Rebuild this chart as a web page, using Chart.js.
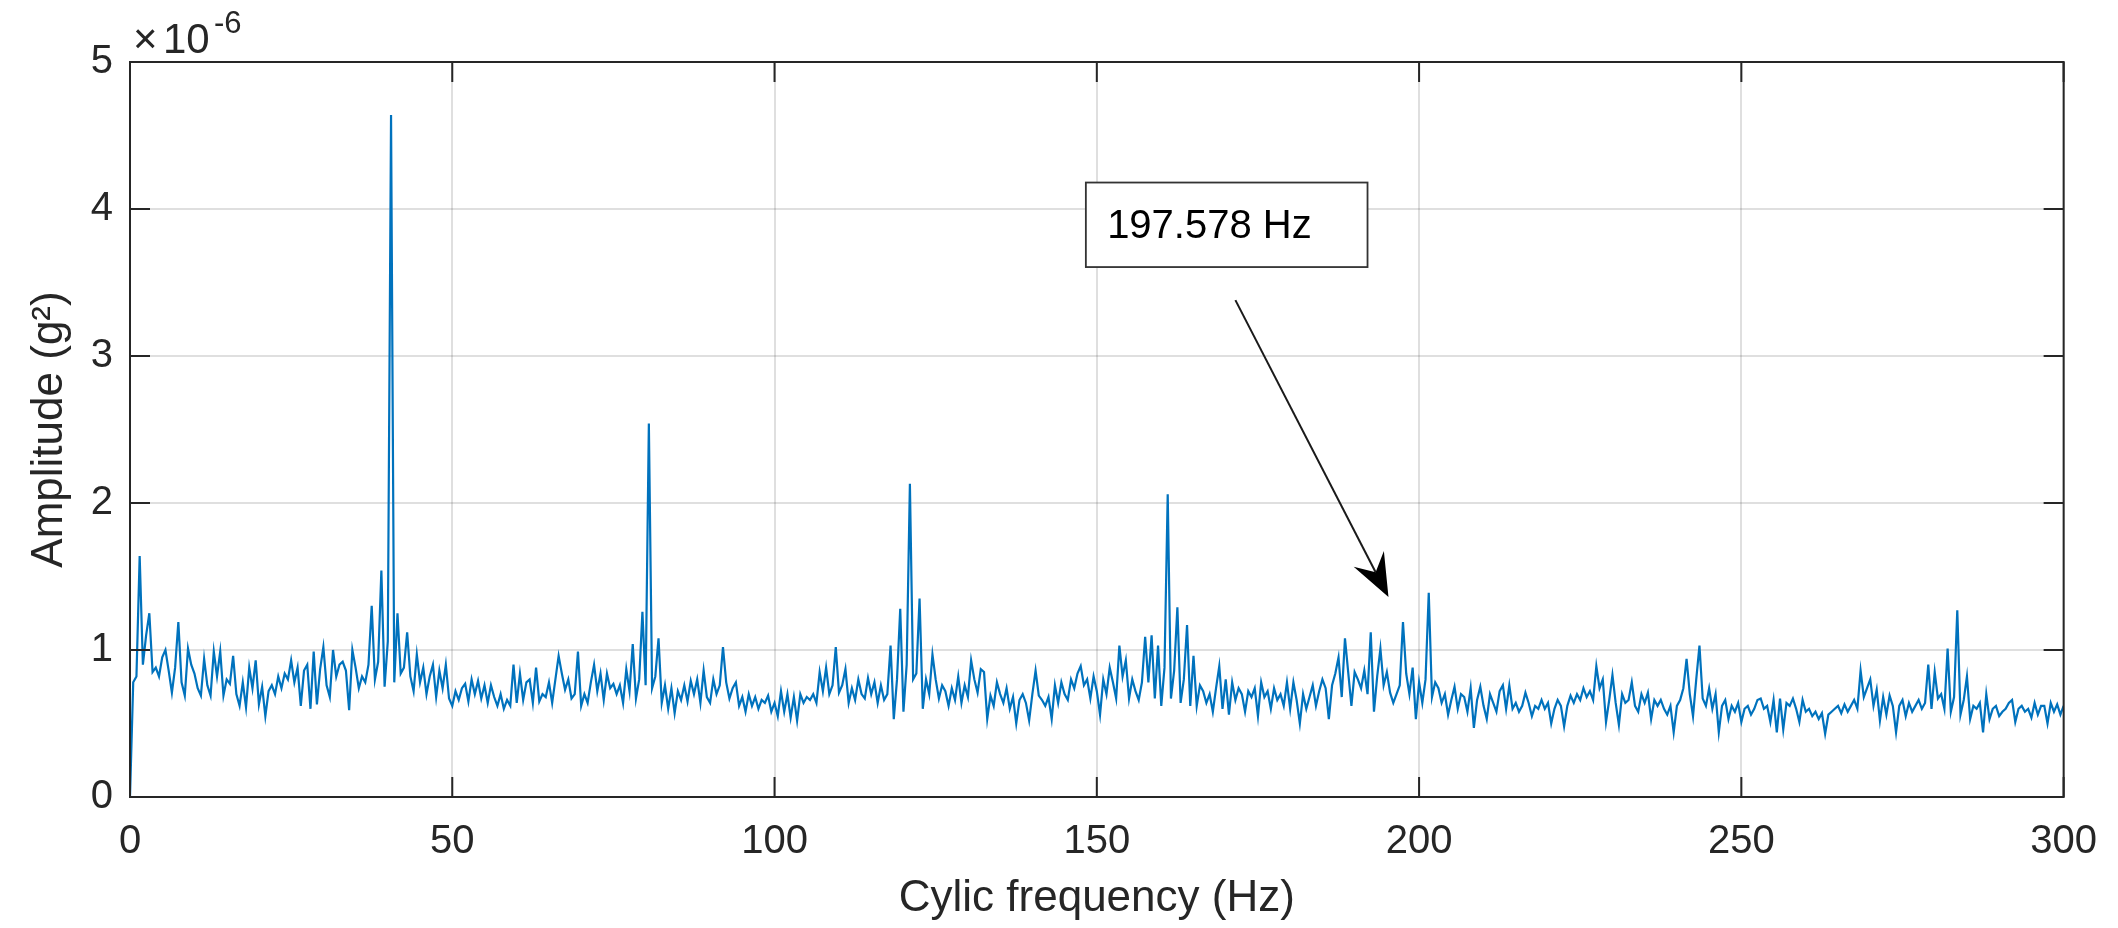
<!DOCTYPE html>
<html>
<head>
<meta charset="utf-8">
<title>Cyclic spectrum</title>
<script src="https://cdn.jsdelivr.net/npm/chart.js@4.4.1/dist/chart.umd.min.js"></script>
<style>
  html, body { margin: 0; padding: 0; background: #fff; }
  #wrap { width: 2118px; height: 928px; }
</style>
</head>
<body>
<div id="wrap"><canvas id="spectrum" width="2118" height="928"></canvas></div>
<script>
// Spectrum amplitudes in units of 1e-6 g^2, one bin every 0.5 Hz, split per 50 Hz band
const freqStep = 0.5;

const amp0to50 = [
  0, 0.78, 0.82, 1.64, 0.9, 1.1, 1.25, 0.85, 0.88, 0.82,
  0.95, 1.0, 0.86, 0.71, 0.88, 1.19, 0.78, 0.69, 1.01, 0.9,
  0.84, 0.74, 0.69, 0.94, 0.76, 0.69, 0.99, 0.82, 0.99, 0.69,
  0.8, 0.77, 0.96, 0.7, 0.62, 0.78, 0.61, 0.88, 0.74, 0.93,
  0.63, 0.75, 0.55, 0.72, 0.76, 0.7, 0.82, 0.74, 0.84, 0.8,
  0.93, 0.78, 0.88, 0.62, 0.86, 0.9, 0.6, 0.99, 0.63, 0.87,
  1.02, 0.76, 0.68, 1.0, 0.82, 0.9, 0.92, 0.86, 0.59, 1.0,
  0.88, 0.74, 0.82, 0.78, 0.9, 1.3, 0.8, 0.92, 1.54, 0.75,
  1.06, 4.64, 0.78, 1.25, 0.84, 0.88, 1.12, 0.82, 0.72, 0.97,
  0.78, 0.88, 0.7, 0.82, 0.9, 0.68, 0.86, 0.74, 0.9, 0.67
];
const amp50to100 = [
  0.62, 0.72, 0.66, 0.74, 0.77, 0.65, 0.8, 0.7, 0.79, 0.67,
  0.76, 0.64, 0.76, 0.68, 0.62, 0.7, 0.6, 0.66, 0.62, 0.9,
  0.64, 0.84, 0.66, 0.78, 0.8, 0.64, 0.88, 0.65, 0.7, 0.68,
  0.78, 0.64, 0.8, 0.96, 0.84, 0.73, 0.8, 0.67, 0.7, 0.99,
  0.62, 0.7, 0.64, 0.78, 0.9, 0.72, 0.84, 0.66, 0.84, 0.74,
  0.77, 0.7, 0.76, 0.64, 0.87, 0.72, 1.04, 0.67, 0.8, 1.26,
  0.76, 2.54, 0.74, 0.82, 1.08, 0.64, 0.76, 0.6, 0.74, 0.57,
  0.72, 0.66, 0.76, 0.65, 0.79, 0.7, 0.8, 0.64, 0.86, 0.68,
  0.64, 0.8, 0.7, 0.76, 1.02, 0.78, 0.67, 0.74, 0.78, 0.62,
  0.68, 0.58, 0.7, 0.62, 0.68, 0.6, 0.66, 0.64, 0.69, 0.58
];
const amp100to150 = [
  0.64, 0.55, 0.72, 0.58, 0.7, 0.54, 0.68, 0.52, 0.7, 0.64,
  0.68, 0.66, 0.7, 0.64, 0.85, 0.72, 0.88, 0.7, 0.76, 1.02,
  0.71, 0.76, 0.87, 0.64, 0.74, 0.66, 0.8, 0.7, 0.67, 0.81,
  0.7, 0.78, 0.64, 0.76, 0.66, 0.7, 1.03, 0.53, 0.8, 1.28,
  0.58, 0.9, 2.13, 0.8, 0.84, 1.35, 0.6, 0.8, 0.7, 0.97,
  0.8, 0.67, 0.76, 0.72, 0.62, 0.74, 0.66, 0.82, 0.64, 0.76,
  0.68, 0.93, 0.8, 0.71, 0.87, 0.85, 0.53, 0.69, 0.62, 0.78,
  0.7, 0.64, 0.74, 0.6, 0.68, 0.5, 0.66, 0.7, 0.64, 0.52,
  0.7, 0.86, 0.69, 0.66, 0.62, 0.68, 0.53, 0.76, 0.64, 0.78,
  0.7, 0.66, 0.8, 0.74, 0.84, 0.89, 0.76, 0.8, 0.67, 0.82
];
const amp150to200 = [
  0.72, 0.56, 0.8, 0.7, 0.88, 0.78, 0.67, 1.03, 0.82, 0.93,
  0.67, 0.8, 0.72, 0.66, 0.78, 1.09, 0.78, 1.1, 0.67, 1.03,
  0.62, 0.88, 2.06, 0.67, 0.86, 1.29, 0.64, 0.8, 1.17, 0.62,
  0.96, 0.62, 0.76, 0.72, 0.64, 0.7, 0.58, 0.74, 0.89, 0.6,
  0.8, 0.56, 0.78, 0.66, 0.74, 0.7, 0.58, 0.72, 0.68, 0.74,
  0.55, 0.78, 0.68, 0.72, 0.6, 0.74, 0.66, 0.7, 0.62, 0.78,
  0.6, 0.78, 0.66, 0.5, 0.7, 0.6, 0.68, 0.76, 0.62, 0.72,
  0.8, 0.74, 0.53, 0.76, 0.84, 0.95, 0.68, 1.08, 0.85, 0.62,
  0.85, 0.8, 0.74, 0.86, 0.7, 1.12, 0.58, 0.82, 1.01, 0.76,
  0.85, 0.71, 0.64, 0.7, 0.76, 1.19, 0.84, 0.7, 0.88, 0.53
];
const amp200to250 = [
  0.78, 0.64, 0.8, 1.39, 0.68, 0.78, 0.74, 0.64, 0.7, 0.56,
  0.66, 0.75, 0.6, 0.7, 0.68, 0.58, 0.74, 0.47, 0.66, 0.75,
  0.62, 0.53, 0.7, 0.64, 0.58, 0.72, 0.76, 0.6, 0.76, 0.6,
  0.64, 0.58, 0.62, 0.71, 0.64, 0.55, 0.62, 0.6, 0.66, 0.6,
  0.64, 0.5, 0.6, 0.66, 0.62, 0.48, 0.62, 0.69, 0.64, 0.7,
  0.66, 0.74, 0.68, 0.72, 0.66, 0.89, 0.74, 0.8, 0.51, 0.66,
  0.83, 0.64, 0.49, 0.7, 0.64, 0.66, 0.78, 0.62, 0.58, 0.7,
  0.64, 0.71, 0.53, 0.66, 0.62, 0.66, 0.6, 0.56, 0.62, 0.44,
  0.62, 0.66, 0.74, 0.94, 0.7, 0.55, 0.8, 1.03, 0.67, 0.62,
  0.74, 0.6, 0.7, 0.44, 0.62, 0.66, 0.53, 0.62, 0.58, 0.64
];
const amp250to300 = [
  0.51, 0.6, 0.62, 0.56, 0.6, 0.66, 0.67, 0.6, 0.62, 0.51,
  0.66, 0.44, 0.67, 0.46, 0.64, 0.62, 0.67, 0.6, 0.51, 0.66,
  0.58, 0.6, 0.55, 0.58, 0.53, 0.57, 0.43, 0.56, 0.58, 0.6,
  0.62, 0.57, 0.63, 0.58, 0.62, 0.66, 0.6, 0.86, 0.68, 0.74,
  0.8, 0.62, 0.73, 0.52, 0.68, 0.56, 0.69, 0.62, 0.44, 0.62,
  0.66, 0.55, 0.64, 0.58, 0.62, 0.66, 0.6, 0.64, 0.9, 0.6,
  0.85, 0.67, 0.7, 0.6, 1.01, 0.58, 0.68, 1.27, 0.56, 0.66,
  0.82, 0.53, 0.62, 0.6, 0.64, 0.44, 0.7, 0.53, 0.6, 0.62,
  0.55, 0.58, 0.6, 0.64, 0.66, 0.51, 0.6, 0.62, 0.58, 0.6,
  0.54, 0.64, 0.56, 0.62, 0.62, 0.5, 0.64, 0.58, 0.63, 0.56,
  0.62
];

const xTicks = [0, 50, 100, 150, 200, 250, 300];
const yTicks = [0, 1, 2, 3, 4, 5];
const yExponent = '-6';

// Peak callout, in axis units (Hz, 1e-6 g^2)
const noteText = '197.578 Hz';
const noteBox = { x0: 148.3, x1: 192.0, yTop: 4.18, yBottom: 3.605 };
const noteTextAt = { x: 151.6, y: 3.80 };
const noteArrow = { fromX: 171.5, fromY: 3.38, toX: 195.25, toY: 1.36 };

const axisColor = '#262626';
const gridColor = 'rgba(38,38,38,0.15)';
const lineColor = '#0072BD';
const fontFamily = "'Liberation Sans', Arial, Helvetica, sans-serif";
const tickLen = 20;

const amplitude = [].concat(amp0to50, amp50to100, amp100to150, amp150to200, amp200to250, amp250to300);
const points = amplitude.map((v, i) => ({ x: i * freqStep, y: v }));

Chart.defaults.font.family = fontFamily;

// Box outline, inward ticks on all four sides, exponent and the arrow callout
const axesFrame = {
  id: 'axesFrame',
  afterDraw(chart) {
    const { ctx, chartArea: a, scales: { x, y } } = chart;
    ctx.save();
    ctx.strokeStyle = axisColor;
    ctx.lineWidth = 2;
    ctx.beginPath();
    xTicks.forEach(v => {
      const px = x.getPixelForValue(v);
      ctx.moveTo(px, a.bottom); ctx.lineTo(px, a.bottom - tickLen);
      ctx.moveTo(px, a.top); ctx.lineTo(px, a.top + tickLen);
    });
    yTicks.forEach(v => {
      const py = y.getPixelForValue(v);
      ctx.moveTo(a.left, py); ctx.lineTo(a.left + tickLen, py);
      ctx.moveTo(a.right, py); ctx.lineTo(a.right - tickLen, py);
    });
    ctx.stroke();
    ctx.strokeRect(a.left, a.top, a.right - a.left, a.bottom - a.top);

    // x10^-6 multiplier above the y axis
    ctx.fillStyle = axisColor;
    ctx.textBaseline = 'alphabetic';
    ctx.textAlign = 'left';
    ctx.font = '42px ' + fontFamily;
    ctx.fillText('\u00d7', a.left + 3, a.top - 9);
    ctx.font = '42px ' + fontFamily;
    ctx.fillText('10', a.left + 33, a.top - 9);
    ctx.font = '31px ' + fontFamily;
    ctx.fillText(yExponent, a.left + 84, a.top - 29);

    // callout box and label
    const bx0 = x.getPixelForValue(noteBox.x0), bx1 = x.getPixelForValue(noteBox.x1);
    const by0 = y.getPixelForValue(noteBox.yTop), by1 = y.getPixelForValue(noteBox.yBottom);
    ctx.fillStyle = '#fff';
    ctx.fillRect(bx0, by0, bx1 - bx0, by1 - by0);
    ctx.strokeStyle = '#333';
    ctx.lineWidth = 1.8;
    ctx.strokeRect(bx0, by0, bx1 - bx0, by1 - by0);
    ctx.fillStyle = '#000';
    ctx.font = '40px ' + fontFamily;
    ctx.fillText(noteText, x.getPixelForValue(noteTextAt.x), y.getPixelForValue(noteTextAt.y));

    // arrow with a swept-back head
    const sx = x.getPixelForValue(noteArrow.fromX), sy = y.getPixelForValue(noteArrow.fromY);
    const tx = x.getPixelForValue(noteArrow.toX), ty = y.getPixelForValue(noteArrow.toY);
    const len = Math.hypot(tx - sx, ty - sy);
    const ux = (tx - sx) / len, uy = (ty - sy) / len;
    const nx = -uy, ny = ux;
    const headLen = 43, headHalf = 17, notch = 28;
    ctx.strokeStyle = '#1a1a1a';
    ctx.lineWidth = 2;
    ctx.beginPath();
    ctx.moveTo(sx, sy);
    ctx.lineTo(tx - ux * notch, ty - uy * notch);
    ctx.stroke();
    ctx.fillStyle = '#000';
    ctx.beginPath();
    ctx.moveTo(tx, ty);
    ctx.lineTo(tx - ux * headLen + nx * headHalf, ty - uy * headLen + ny * headHalf);
    ctx.lineTo(tx - ux * notch, ty - uy * notch);
    ctx.lineTo(tx - ux * headLen - nx * headHalf, ty - uy * headLen - ny * headHalf);
    ctx.closePath();
    ctx.fill();
    ctx.restore();
  }
};

new Chart(document.getElementById('spectrum'), {
  type: 'line',
  data: {
    datasets: [{
      data: points,
      borderColor: lineColor,
      borderWidth: 2.2,
      pointRadius: 0,
      tension: 0,
      fill: false
    }]
  },
  options: {
    responsive: false,
    animation: false,
    devicePixelRatio: 1,
    layout: { padding: { top: 62, right: 52, left: 0, bottom: 0 } },
    plugins: { legend: { display: false }, tooltip: { enabled: false } },
    scales: {
      x: {
        type: 'linear',
        min: 0,
        max: 300,
        afterBuildTicks: s => { s.ticks = xTicks.map(v => ({ value: v })); },
        afterFit: s => { s.height = 131; },
        border: { display: false },
        grid: { color: gridColor, lineWidth: 2, drawTicks: false },
        ticks: { padding: 21, color: axisColor, maxRotation: 0, font: { size: 40 } },
        title: {
          display: true,
          text: 'Cylic frequency (Hz)',
          color: axisColor,
          font: { size: 44, lineHeight: 1.2 },
          padding: { top: 0, bottom: 3 }
        }
      },
      y: {
        type: 'linear',
        min: 0,
        max: 5,
        afterBuildTicks: s => { s.ticks = yTicks.map(v => ({ value: v })); },
        afterFit: s => { s.width = 130; },
        border: { display: false },
        grid: { color: gridColor, lineWidth: 2, drawTicks: false },
        ticks: { padding: 17, color: axisColor, font: { size: 40 } },
        title: {
          display: true,
          text: 'Amplitude (g\u00b2)',
          color: axisColor,
          font: { size: 44, lineHeight: 1.2 },
          padding: { top: 23, bottom: 0 }
        }
      }
    }
  },
  plugins: [axesFrame]
});
</script>
</body>
</html>
